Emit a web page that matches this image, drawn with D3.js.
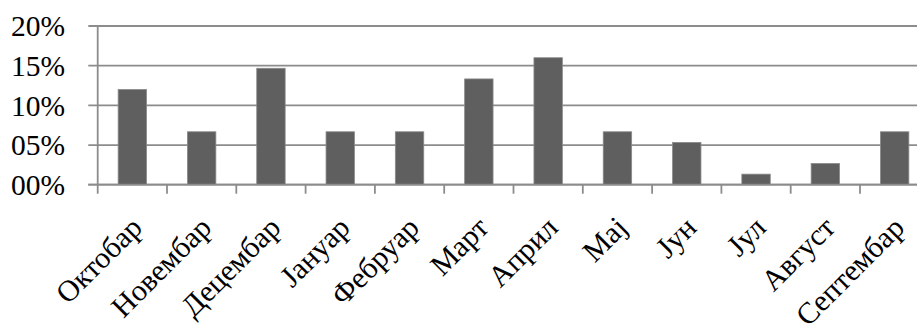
<!DOCTYPE html>
<html><head><meta charset="utf-8">
<script src="https://cdn.jsdelivr.net/npm/d3@7"></script>
<style>html,body{margin:0;padding:0;background:#fff;overflow:hidden}</style>
</head><body>
<svg id="chart" width="917" height="334"></svg>
<script>
const categories = ["Октобар","Новембар","Децембар","Јануар","Фебруар","Март","Април","Мај","Јун","Јул","Август","Септембар"];
const values = [12.0, 6.67, 14.67, 6.67, 6.67, 13.33, 16.0, 6.67, 5.33, 1.33, 2.67, 6.67];
const yTicks = [0, 5, 10, 15, 20];
const yTickLabels = ["00%","05%","10%","15%","20%"];

(function(){
const svg = d3.select("#chart");
const pLeft = 97.7, pRight = 929.3, pTop = 26, pBottom = 184.7;
const font = "'Liberation Serif','Times New Roman',serif";

const x = d3.scaleBand().domain(categories).range([pLeft, pRight]).paddingInner(0.59).paddingOuter(0.295);
const xb = d3.scaleBand().domain(categories).range([pLeft, pRight]);
const y = d3.scaleLinear().domain([0, 20]).range([pBottom, pTop]);

svg.append("g").selectAll("line").data(yTicks).join("line")
  .attr("x1", 88.3).attr("x2", pRight)
  .attr("y1", d => y(d)).attr("y2", d => y(d))
  .attr("stroke", "#8c8c8c").attr("stroke-width", 1.8);

svg.append("g").selectAll("rect").data(values).join("rect")
  .attr("x", (d,i) => x(categories[i]))
  .attr("width", x.bandwidth())
  .attr("y", d => y(d))
  .attr("height", d => pBottom - y(d))
  .attr("fill", "#5f5f5f").attr("stroke", "#8a8a8a").attr("stroke-width", 0.8);

svg.append("line").attr("x1", pLeft).attr("x2", pLeft).attr("y1", pTop).attr("y2", pBottom + 9)
  .attr("stroke", "#8c8c8c").attr("stroke-width", 1.8);
svg.append("line").attr("x1", 88.3).attr("x2", pRight).attr("y1", pBottom).attr("y2", pBottom)
  .attr("stroke", "#8c8c8c").attr("stroke-width", 1.8);
svg.append("g").selectAll("line").data(categories).join("line")
  .attr("x1", d => xb(d) + xb.bandwidth()).attr("x2", d => xb(d) + xb.bandwidth())
  .attr("y1", pBottom).attr("y2", pBottom + 9)
  .attr("stroke", "#8c8c8c").attr("stroke-width", 1.8);

svg.append("g").selectAll("text").data(yTicks).join("text")
  .attr("x", 65).attr("y", d => y(d)).attr("dy", "0.35em")
  .attr("text-anchor", "end")
  .attr("font-family", font).attr("font-size", 29.5).attr("fill", "#000")
  .text((d,i) => yTickLabels[i]);

svg.append("g").selectAll("text").data(categories).join("text")
  .attr("transform", d => `translate(${xb(d) + xb.bandwidth()/2 + 4},222) rotate(-45)`)
  .attr("dy", "0.35em")
  .attr("text-anchor", "end")
  .attr("font-family", font).attr("font-size", 30).attr("fill", "#000")
  .text(d => d);
})();
</script>
</body></html>
